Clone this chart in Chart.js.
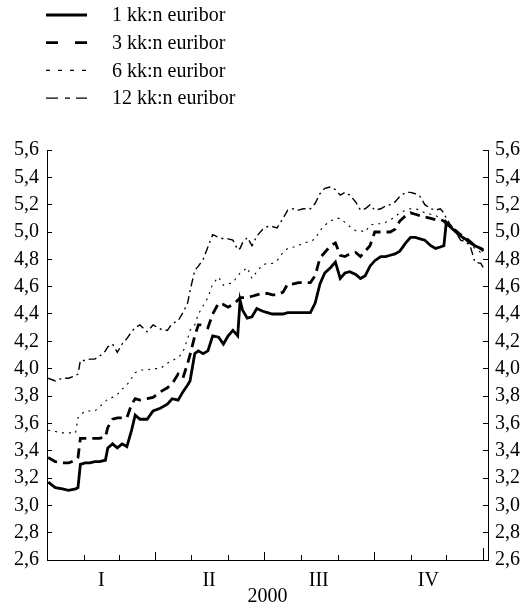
<!DOCTYPE html>
<html>
<head>
<meta charset="utf-8">
<script src="https://cdn.jsdelivr.net/npm/chart.js@4.4.0/dist/chart.umd.min.js"></script>
<style>
  html, body { margin: 0; padding: 0; background: #fff; }
  #chart { display: block; }
</style>
</head>
<body>
<canvas id="chart" width="527" height="604"></canvas>
<script>
// days from 1.1.2000
var days = [1, 7, 13, 18, 24, 26, 28, 32, 36, 40, 44, 49, 51, 55, 59, 63, 67, 71, 74, 78,
  84, 89, 95, 101, 105, 110, 114, 118, 120, 124, 127, 131, 135, 139, 144, 148, 152, 156, 160, 162,
  164, 168, 172, 176, 181, 185, 189, 193, 198, 202, 207, 211, 215, 221, 225, 229, 233, 238, 242, 246,
  250, 254, 259, 263, 267, 271, 275, 280, 284, 288, 292, 296, 301, 305, 309, 313, 317, 322, 326, 330,
  333, 335, 338, 343, 347, 351, 355, 359, 364, 366]

var euribor1 = [3.17, 3.13, 3.12, 3.11, 3.12, 3.13, 3.30, 3.31, 3.31, 3.32, 3.32, 3.33, 3.42, 3.45, 3.42, 3.45, 3.43, 3.55, 3.66, 3.63,
  3.63, 3.69, 3.71, 3.74, 3.78, 3.77, 3.83, 3.88, 3.91, 4.11, 4.13, 4.11, 4.13, 4.24, 4.23, 4.18, 4.24, 4.28, 4.24, 4.50,
  4.43, 4.37, 4.38, 4.44, 4.42, 4.41, 4.40, 4.40, 4.40, 4.41, 4.41, 4.41, 4.41, 4.41, 4.48, 4.62, 4.70, 4.74, 4.78, 4.66,
  4.70, 4.71, 4.69, 4.66, 4.68, 4.75, 4.79, 4.82, 4.82, 4.83, 4.84, 4.86, 4.92, 4.96, 4.96, 4.95, 4.94, 4.90, 4.88, 4.89,
  4.90, 5.07, 5.04, 5.00, 4.97, 4.95, 4.92, 4.90, 4.88, 4.86]

var euribor3 = [3.35, 3.32, 3.31, 3.31, 3.33, 3.35, 3.49, 3.49, 3.49, 3.49, 3.49, 3.50, 3.57, 3.63, 3.64, 3.64, 3.64, 3.74, 3.78, 3.77,
  3.78, 3.79, 3.83, 3.86, 3.89, 3.96, 3.93, 4.04, 4.10, 4.24, 4.32, 4.32, 4.30, 4.40, 4.48, 4.47, 4.45, 4.47, 4.50, 4.52,
  4.52, 4.52, 4.53, 4.54, 4.55, 4.55, 4.54, 4.54, 4.56, 4.62, 4.62, 4.63, 4.63, 4.63, 4.68, 4.81, 4.85, 4.90, 4.92, 4.83,
  4.82, 4.84, 4.85, 4.82, 4.86, 4.90, 5.00, 5.00, 5.00, 5.00, 5.02, 5.08, 5.12, 5.14, 5.13, 5.12, 5.11, 5.10, 5.09, 5.09,
  5.08, 5.06, 5.04, 5.01, 4.98, 4.96, 4.93, 4.90, 4.88, 4.87]

var euribor6 = [3.55, 3.54, 3.53, 3.53, 3.53, 3.64, 3.66, 3.69, 3.69, 3.69, 3.72, 3.76, 3.78, 3.79, 3.81, 3.85, 3.88, 3.93, 3.97, 3.99,
  3.99, 4.00, 4.00, 4.04, 4.06, 4.08, 4.12, 4.22, 4.28, 4.32, 4.40, 4.46, 4.52, 4.62, 4.67, 4.61, 4.62, 4.63, 4.68, 4.70,
  4.71, 4.74, 4.66, 4.71, 4.76, 4.77, 4.77, 4.79, 4.85, 4.88, 4.89, 4.90, 4.92, 4.93, 4.95, 5.01, 5.05, 5.08, 5.10, 5.10,
  5.07, 5.04, 5.01, 5.01, 5.00, 5.05, 5.06, 5.06, 5.07, 5.09, 5.11, 5.14, 5.16, 5.17, 5.17, 5.16, 5.14, 5.13, 5.12, 5.10,
  5.08, 5.06, 5.04, 4.99, 4.96, 4.94, 4.91, 4.88, 4.85, 4.84]

var euribor12 = [3.93, 3.91, 3.93, 3.93, 3.95, 3.96, 4.06, 4.06, 4.07, 4.07, 4.09, 4.13, 4.16, 4.18, 4.12, 4.18, 4.22, 4.27, 4.30, 4.32,
  4.27, 4.32, 4.29, 4.28, 4.33, 4.35, 4.41, 4.48, 4.57, 4.72, 4.75, 4.80, 4.89, 4.98, 4.96, 4.95, 4.95, 4.94, 4.87, 4.88,
  4.92, 4.96, 4.90, 4.97, 5.02, 5.04, 5.04, 5.03, 5.10, 5.16, 5.17, 5.16, 5.17, 5.17, 5.21, 5.28, 5.32, 5.33, 5.31, 5.27,
  5.29, 5.27, 5.22, 5.16, 5.17, 5.20, 5.16, 5.17, 5.19, 5.20, 5.22, 5.26, 5.29, 5.29, 5.28, 5.26, 5.20, 5.17, 5.16, 5.17,
  5.14, 5.10, 5.06, 5.00, 4.94, 4.93, 4.90, 4.78, 4.77, 4.74]

var seriesNames = ['1 kk:n euribor', '3 kk:n euribor', '6 kk:n euribor', '12 kk:n euribor']
var yTicks = [2.6, 2.8, 3.0, 3.2, 3.4, 3.6, 3.8, 4.0, 4.2, 4.4, 4.6, 4.8, 5.0, 5.2, 5.4, 5.6]
var quarterLabels = ['I', 'II', 'III', 'IV']
var quarterCenters = [45.5, 136, 228, 320]
var monthStarts = [0, 31, 60, 91, 121, 152, 182, 213, 244, 274, 305, 335, 366]
var yearLabel = '2000'

var serif = '"Liberation Serif", "Times New Roman", serif'
var font = {family: serif, size: 20}

var styles = [
  {width: 2.8, dash: [], legendDash: []},
  {width: 2.8, dash: [10, 6], legendDash: [12, 17]},
  {width: 1.1, dash: [2, 5], legendDash: [4, 8]},
  {width: 1.4, dash: [8, 4, 2, 4], legendDash: [12, 7, 5, 6]}
]

function points(values) {
  return days.map(function (d, i) { return {x: d, y: values[i]} })
}

var datasets = [euribor1, euribor3, euribor6, euribor12].map(function (values, i) {
  return {
    label: seriesNames[i],
    data: points(values),
    borderColor: '#000',
    borderWidth: styles[i].width,
    borderDash: styles[i].dash,
    borderCapStyle: 'butt',
    pointRadius: 0,
    tension: 0,
    fill: false
  }
})

// legend above the plot, one row per series
var legendRows = {
  id: 'legendRows',
  afterDraw: function (chart) {
    var ctx = chart.ctx
    ctx.save()
    ctx.font = '20px ' + serif
    ctx.fillStyle = '#000'
    ctx.textBaseline = 'middle'
    chart.data.datasets.forEach(function (ds, i) {
      var y = 15 + i * 27.7
      ctx.strokeStyle = '#000'
      ctx.lineWidth = ds.borderWidth
      ctx.setLineDash(styles[i].legendDash)
      ctx.beginPath()
      ctx.moveTo(46, y)
      ctx.lineTo(87, y)
      ctx.stroke()
      ctx.setLineDash([])
      ctx.fillText(ds.label, 112, y + 1)
    })
    ctx.restore()
  }
}

// inward month ticks on the x axis, taller at quarter ends
var monthTicks = {
  id: 'monthTicks',
  afterDraw: function (chart) {
    var ctx = chart.ctx
    var sx = chart.scales.x
    var bottom = chart.chartArea.bottom
    ctx.save()
    ctx.strokeStyle = '#000'
    ctx.lineWidth = 1
    monthStarts.forEach(function (d, i) {
      if (i === 0) return
      var len = i === 12 ? 12 : (i % 3 === 0 ? 8 : 5)
      var px = Math.round(sx.getPixelForValue(d)) + 0.5
      ctx.beginPath()
      ctx.moveTo(px, bottom)
      ctx.lineTo(px, bottom - len)
      ctx.stroke()
    })
    ctx.restore()
  }
}

function yAxis(position, padding, width) {
  return {
    type: 'linear',
    position: position,
    min: 2.6,
    max: 5.6,
    afterBuildTicks: function (s) { s.ticks = yTicks.map(function (v) { return {value: v} }) },
    afterFit: function (s) { s.width = width },
    ticks: {
      callback: function (v) { return Number(v).toFixed(1).replace('.', ',') },
      padding: padding,
      color: '#000',
      font: font
    },
    grid: {drawOnChartArea: false, tickLength: -5, tickColor: '#000', color: '#000'},
    border: {display: true, color: '#000', width: 1}
  }
}

var config = {
  type: 'line',
  data: {datasets: datasets},
  options: {
    responsive: false,
    animation: false,
    layout: {padding: {top: 150, left: 0, right: 0, bottom: 0}},
    plugins: {
      legend: {display: false},
      tooltip: {enabled: false}
    },
    scales: {
      x: {
        type: 'linear',
        min: 0,
        max: 370,
        afterBuildTicks: function (s) { s.ticks = quarterCenters.map(function (v) { return {value: v} }) },
        afterFit: function (s) { s.height = 44 },
        ticks: {
          callback: function (v, i) { return quarterLabels[i] },
          autoSkip: false,
          maxRotation: 0,
          padding: 9,
          color: '#000',
          font: font
        },
        grid: {display: false, drawTicks: false},
        border: {display: true, color: '#000', width: 1},
        title: {display: true, text: yearLabel, color: '#000', font: {family: serif, size: 20, lineHeight: 1}, padding: {top: 0, bottom: -3}}
      },
      y: yAxis('left', 13, 47),
      y2: yAxis('right', 12, 39)
    }
  },
  plugins: [legendRows, monthTicks]
}

new Chart(document.getElementById('chart'), config)
</script>
</body>
</html>
